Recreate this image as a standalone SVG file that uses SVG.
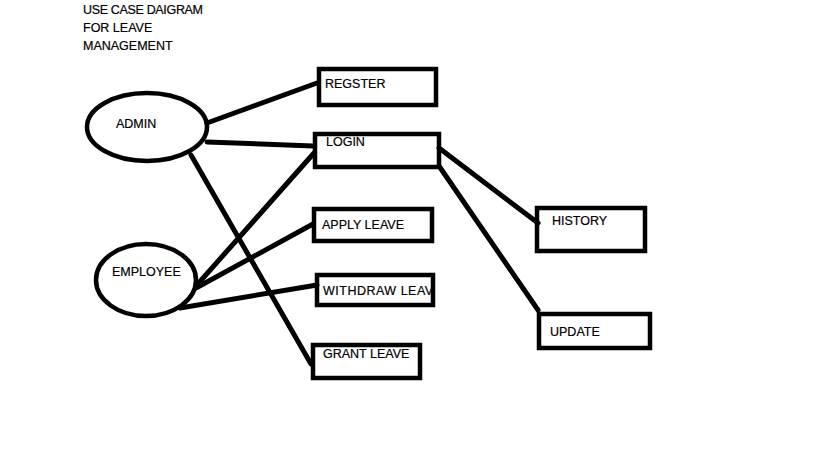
<svg xmlns="http://www.w3.org/2000/svg" width="819" height="460" viewBox="0 0 819 460">
<style>
text{font-family:"Liberation Sans",Arial,sans-serif;font-size:12.5px;fill:#000;stroke:#000;stroke-width:0.2;dominant-baseline:central}
.n{fill:none;stroke:#000;stroke-width:4.5}
.c line{stroke:#000;stroke-width:5;stroke-linecap:round}
</style>
<defs><clipPath id="wc"><rect x="315" y="273" width="118" height="34"/></clipPath></defs>
<rect width="819" height="460" fill="#fff"/>
<g id="title">
<text x="83" y="10" textLength="120">USE CASE DAIGRAM</text>
<text x="83" y="28">FOR LEAVE</text>
<text x="83" y="46">MANAGEMENT</text>
</g>
<g class="c" id="connectors">
<line x1="207" y1="123" x2="317" y2="83"/>
<line x1="207" y1="142" x2="313" y2="146"/>
<line x1="191" y1="155" x2="311" y2="364"/>
<line x1="196" y1="286" x2="314" y2="153"/>
<line x1="196" y1="288" x2="313" y2="224"/>
<line x1="180" y1="308" x2="317" y2="285"/>
<line x1="439" y1="148" x2="538" y2="223"/>
<line x1="439" y1="166" x2="538" y2="310"/>
</g>
<g id="admin"><ellipse class="n" cx="147" cy="127" rx="60" ry="34"/><text x="116" y="124">ADMIN</text></g>
<g id="employee"><ellipse class="n" cx="146" cy="280" rx="50" ry="36"/><text x="112" y="272">EMPLOYEE</text></g>
<g id="regster"><rect class="n" x="319" y="69" width="117" height="36"/><text x="325" y="84">REGSTER</text></g>
<g id="login"><rect class="n" x="315" y="134" width="124" height="33"/><text x="326" y="142">LOGIN</text></g>
<g id="apply"><rect class="n" x="314" y="209" width="118" height="32"/><text x="322" y="225">APPLY LEAVE</text></g>
<g id="withdraw"><text x="323" y="291" textLength="119" clip-path="url(#wc)">WITHDRAW LEAVE</text><rect class="n" x="317" y="275" width="116" height="30"/></g>
<g id="grant"><rect class="n" x="313" y="345" width="107" height="33"/><text x="323" y="354">GRANT LEAVE</text></g>
<g id="history"><rect class="n" x="537" y="208" width="108" height="43"/><text x="552" y="221">HISTORY</text></g>
<g id="update"><rect class="n" x="539" y="314" width="111" height="34"/><text x="550" y="332">UPDATE</text></g>
</svg>
